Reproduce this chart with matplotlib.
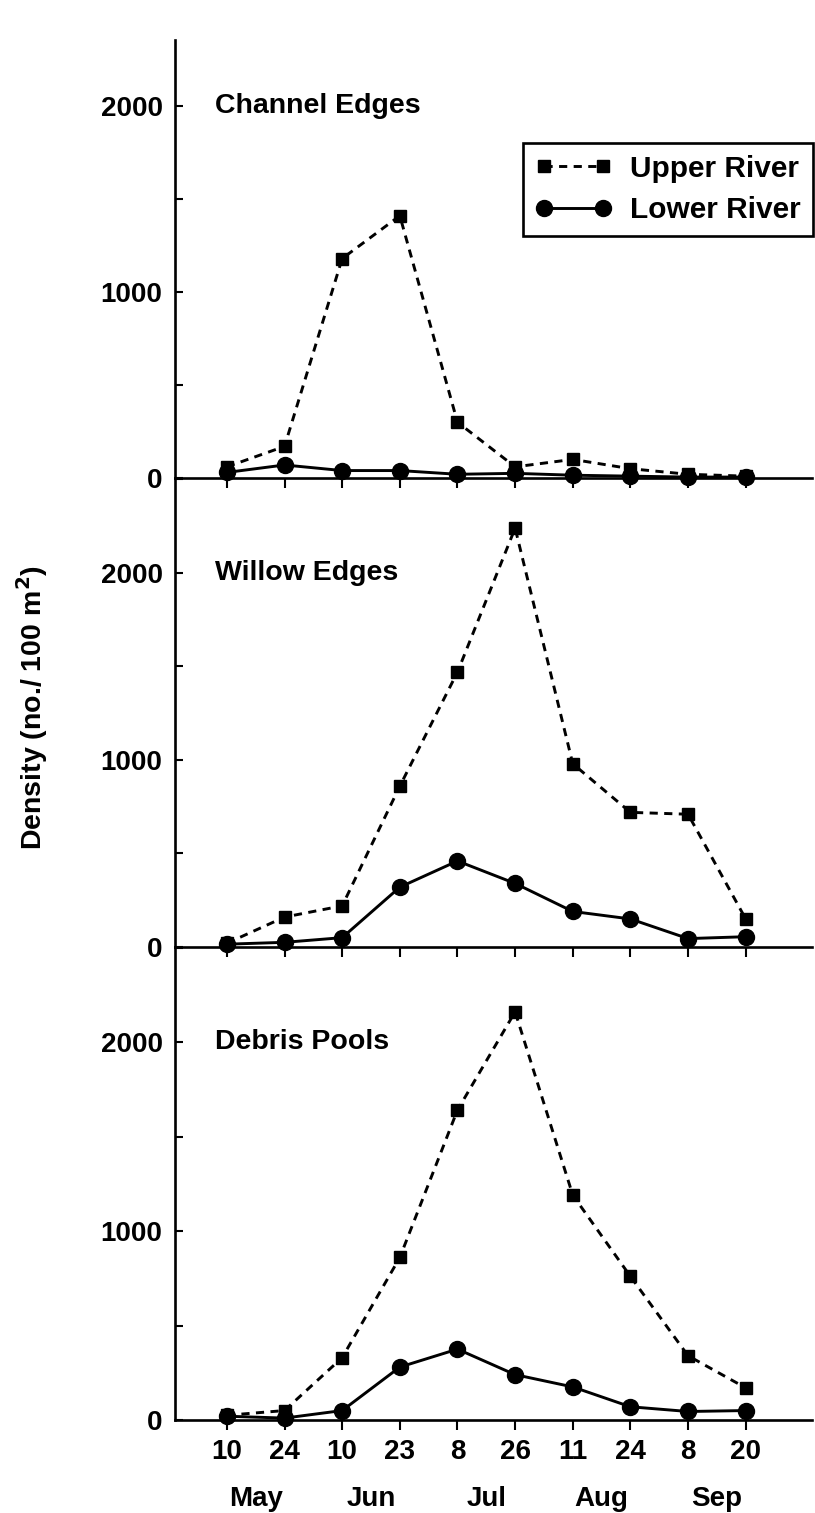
import matplotlib
matplotlib.use("Agg")
import matplotlib.pyplot as plt
from matplotlib.ticker import MultipleLocator
from matplotlib.transforms import blended_transform_factory

plt.rcParams['font.family'] = ['Liberation Sans', 'DejaVu Sans']
plt.rcParams['font.weight'] = 'bold'

# Sampling dates (equally spaced on the axis)
day_labels = ["10", "24", "10", "23", "8", "26", "11", "24", "8", "20"]
month_labels = ["May", "Jun", "Jul", "Aug", "Sep"]
month_positions = [0.5, 2.5, 4.5, 6.5, 8.5]

habitats = ["Channel Edges", "Willow Edges", "Debris Pools"]

# Density (no./100 m^2), upper and lower river, per habitat
channel_upper = [60, 170, 1180, 1410, 300, 60, 100, 50, 20, 10]
channel_lower = [30, 70, 40, 40, 20, 25, 15, 10, 5, 5]
willow_upper = [20, 160, 220, 860, 1470, 2240, 980, 720, 710, 150]
willow_lower = [15, 25, 50, 320, 460, 340, 190, 150, 45, 55]
debris_upper = [25, 50, 330, 860, 1640, 2160, 1190, 760, 340, 170]
debris_lower = [20, 10, 50, 280, 375, 240, 175, 70, 45, 50]

upper_series = [channel_upper, willow_upper, debris_upper]
lower_series = [channel_lower, willow_lower, debris_lower]
y_tops = [2355, 2508, 2503]

W, H = 815, 1513
fig = plt.figure(figsize=(W / 100, H / 100), dpi=100)

left_px, right_px = 175, 812
panel_px = [(40, 478), (478, 947), (947, 1420)]  # (top, zero line) in pixels

x = list(range(len(day_labels)))
axes = []
for i, (top, zero) in enumerate(panel_px):
    ax = fig.add_axes([left_px / W, 1 - zero / H, (right_px - left_px) / W, (zero - top) / H])
    ax.set_facecolor('none')
    axes.append(ax)

    ax.plot(x, upper_series[i], color='black', lw=2.1, linestyle=(0, (2.8, 2.2)),
            marker='s', ms=9, clip_on=False, zorder=3, label='Upper River')
    ax.plot(x, lower_series[i], color='black', lw=2.1, linestyle='-',
            marker='o', ms=11.5, clip_on=False, zorder=4, label='Lower River')

    ax.set_xlim(-0.9, 10.15)
    ax.set_ylim(0, y_tops[i])

    for side in ('top', 'right'):
        ax.spines[side].set_visible(False)
    for side in ('left', 'bottom'):
        ax.spines[side].set_linewidth(1.9)

    ax.yaxis.set_major_locator(MultipleLocator(1000))
    ax.yaxis.set_minor_locator(MultipleLocator(500))
    ax.tick_params(axis='y', which='both', direction='in', length=6, width=1.5,
                   labelsize=20, pad=9)
    ax.set_yticks([0, 1000, 2000])
    ax.set_yticklabels(["0", "1000", "2000"])
    ax.set_xticks(x)
    ax.tick_params(axis='x', direction='out', length=7, width=1.5, labelsize=20, pad=7)
    if i < 2:
        ax.set_xticklabels([])
    else:
        ax.set_xticklabels(day_labels)
        for mx, mlabel in zip(month_positions, month_labels):
            ax.annotate(mlabel, xy=(mx, 0), xycoords=('data', 'axes fraction'),
                        xytext=(0, -57), textcoords='offset points',
                        ha='center', va='center', fontsize=20, fontweight='bold')

    ax.text(0.063, 2000, habitats[i],
            transform=blended_transform_factory(ax.transAxes, ax.transData),
            ha='left', va='center', fontsize=20.5, fontweight='bold')

leg = axes[0].legend(loc='upper right', bbox_to_anchor=(813 / W, 1 - 143 / H),
                     bbox_transform=fig.transFigure, numpoints=2, fontsize=21.5,
                     frameon=True, fancybox=False, edgecolor='black', framealpha=1,
                     handlelength=2.6, handletextpad=0.6, borderpad=0.4,
                     labelspacing=0.45, borderaxespad=0)
leg.get_frame().set_linewidth(1.9)
for t in leg.get_texts():
    t.set_fontweight('bold')

fig.text(32 / W, 1 - 708 / H, r"Density (no./ 100 m$^\mathbf{2}$)", rotation=90,
         ha='center', va='center', fontsize=20.5, fontweight='bold')

fig.savefig("out.png", dpi=100)
